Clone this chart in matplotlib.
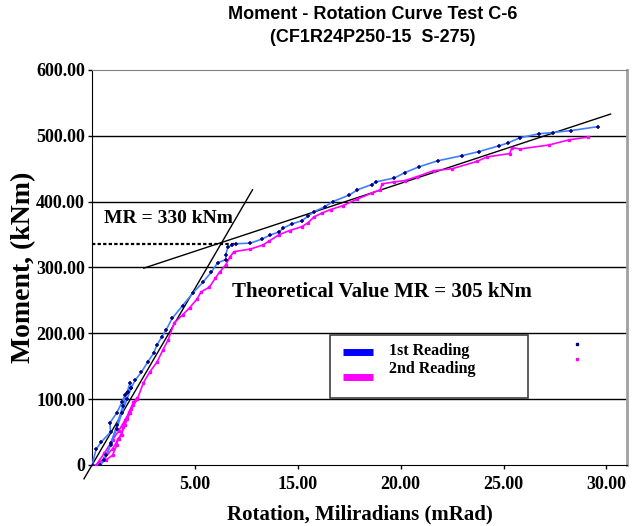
import matplotlib.pyplot as plt
from matplotlib.patches import Rectangle

# DATA
blue_rot = [0, 0.2, 0.45, 0.9, 0.87, 1.2, 1.45, 1.6, 1.75, 1.9, 1.85,
            1.7, 1.5, 1.2, 0.9, 0.6, 0.4,
            0.7, 0.9, 1.2, 1.45, 1.7, 1.9, 2.1, 2.4, 2.7, 3.0, 3.15, 3.4, 3.6,
            3.9, 4.4, 4.9, 5.4, 5.8, 6.1, 6.5, 6.5, 6.6, 6.8, 7.0, 7.7, 8.25,
            8.64, 9.1, 9.3, 9.7, 10.2, 10.5, 10.8, 11.3, 11.7, 12.5, 12.9, 13.6,
            13.8, 14.7, 15.2, 15.9, 16.8, 18.0, 18.8, 19.8, 20.2, 20.8, 21.7,
            22.4, 23.3, 24.6]
blue_mom = [0, 24, 35, 50, 64, 79, 95, 106, 111, 117, 125,
            110, 90, 60, 30, 8, 0,
            15, 33, 55, 79, 100, 117, 129, 141, 156, 170, 182, 195, 205,
            223, 242, 261, 278, 293, 307, 312, 319, 331, 334, 336, 337, 343,
            349, 354, 360, 366, 371, 378, 385, 392, 400, 410, 418, 426,
            430, 436, 444, 453, 462, 470, 476, 485, 489, 497, 503,
            505, 508, 514]

pink_rot = [0, 0.3, 0.7, 1.0, 1.2, 1.25, 1.45, 1.5, 1.7, 1.85, 2.0, 2.2,
            2.0, 1.8, 1.6, 1.3, 1.0, 0.6, 0.2,
            0.6, 1.0, 1.3, 1.6, 1.9, 2.2, 2.5, 2.8, 3.15, 3.45, 3.7, 4.0, 4.4,
            4.75, 5.1, 5.3, 5.7, 6.0, 6.2, 6.5, 6.7, 6.9, 7.7, 8.3, 8.6, 9.1,
            9.6, 10.2, 10.5, 10.8, 11.2, 11.6, 12.2, 12.9, 13.6, 14.0, 14.1,
            14.7, 15.2, 15.8, 16.6, 17.5, 18.7, 19.2, 20.3, 20.4, 20.8, 22.2,
            23.2, 24.1]
pink_mom = [0, 0, 8, 15, 30, 40, 45, 58, 70, 79, 91, 102,
            95, 80, 60, 40, 25, 10, 0,
            18, 38, 52, 68, 85, 100, 125, 141, 156, 175, 190, 216, 228,
            239, 252, 263, 270, 284, 293, 304, 316, 324, 328, 334, 340, 350,
            356, 362, 368, 377, 383, 388, 394, 404, 413, 418, 427,
            430, 432, 438, 447, 450, 461, 468, 473, 482, 480, 486,
            494, 498]

# theoretical lines
elastic_rot = [-0.39, 7.8]
elastic_mom = [-21, 418]
plastic_rot = [2.52, 25.2]
plastic_mom = [299, 533]
mr_rot = [0, 6.9]
mr_mom = [335, 335]

x_ticks = [5, 10, 15, 20, 25]
x_labels = ["5.00", "15.00", "20.00", "25.00", "30.00"]
y_ticks = [0, 100, 200, 300, 400, 500, 600]
y_labels = ["0", "100.00", "200.00", "300.00", "400.00", "500.00", "600.00"]

# FIGURE
serif = "Liberation Serif"
fig = plt.figure(figsize=(6.32, 5.26), dpi=100)
ax = fig.add_axes([0.1456, 0.116, 0.8465, 0.751])

for y in y_ticks[1:-1]:
    ax.axhline(y, color="black", lw=1, zorder=1)

ax.plot(elastic_rot, elastic_mom, color="black", lw=1, clip_on=False, zorder=3)
ax.plot(plastic_rot, plastic_mom, color="black", lw=1, zorder=3)
ax.plot(mr_rot, mr_mom, color="black", lw=1.6, ls=(0, (1.5, 1)), zorder=3)

ax.plot(pink_rot, pink_mom, color="#ff00ff", lw=1.2, marker="s", ms=1.8,
        mfc="#ff00ff", mec="#ff00ff", zorder=4)
ax.plot(blue_rot, blue_mom, color="#3f7fff", lw=1.2, marker="+", ms=2.5,
        mew=1.1, mec="#000080", zorder=5)

ax.set_xlim(0, 26)
ax.set_ylim(0, 600)
ax.set_xticks(x_ticks)
ax.set_xticklabels(x_labels)
ax.set_yticks(y_ticks)
ax.set_yticklabels(y_labels)
ax.tick_params(direction="out", length=3, width=1)
for lab in ax.get_xticklabels() + ax.get_yticklabels():
    lab.set_fontfamily(serif)
    lab.set_fontweight("bold")
    lab.set_fontsize(13)
ax.tick_params(axis="x", pad=5)
ax.tick_params(axis="y", pad=2)

ax.spines["left"].set_color("black")
ax.spines["bottom"].set_color("black")
ax.spines["top"].set_color("#808080")
ax.spines["right"].set_color("#a0a0a0")
ax.spines["right"].set_linewidth(2)

# TEXT
ax.text(0.6, 374, "MR = 330 kNm", fontfamily=serif, fontweight="bold",
        fontsize=14, va="center", ha="left")
ax.text(6.8, 263, "Theoretical Value MR = 305 kNm", fontfamily=serif,
        fontweight="bold", fontsize=15, va="center", ha="left")

fig.text(0.59, 0.972, "Moment - Rotation Curve Test C-6", family="Liberation Sans",
         fontweight="bold", fontsize=13, ha="center", va="center")
fig.text(0.59, 0.928, "(CF1R24P250-15  S-275)", family="Liberation Sans",
         fontweight="bold", fontsize=13, ha="center", va="center")

ax.set_xlabel("Rotation, Miliradians (mRad)", fontfamily=serif,
              fontweight="bold", fontsize=15, labelpad=8)
ax.set_ylabel("Moment, (kNm)", fontfamily=serif, fontweight="bold",
              fontsize=20, labelpad=0)

# LEGEND
ax.add_patch(Rectangle((0.445, 0.170), 0.37, 0.159, transform=ax.transAxes,
                       facecolor="white", edgecolor="#404040", lw=1.2, zorder=6))
ax.plot([0.469, 0.525], [0.286, 0.286], color="#0000ff", lw=5,
        transform=ax.transAxes, zorder=7, solid_capstyle="butt")
ax.plot([0.469, 0.525], [0.222, 0.222], color="#ff00ff", lw=5,
        transform=ax.transAxes, zorder=7, solid_capstyle="butt")
ax.text(0.555, 0.288, "1st Reading", transform=ax.transAxes, fontfamily=serif,
        fontweight="bold", fontsize=11.5, va="center", zorder=7)
ax.text(0.555, 0.243, "2nd Reading", transform=ax.transAxes, fontfamily=serif,
        fontweight="bold", fontsize=11.5, va="center", zorder=7)
ax.plot([0.907], [0.306], marker="s", ms=1.5, color="#000080", transform=ax.transAxes)
ax.plot([0.907], [0.268], marker="s", ms=2, color="#ff00ff", transform=ax.transAxes)

fig.savefig("out.png", dpi=100)
